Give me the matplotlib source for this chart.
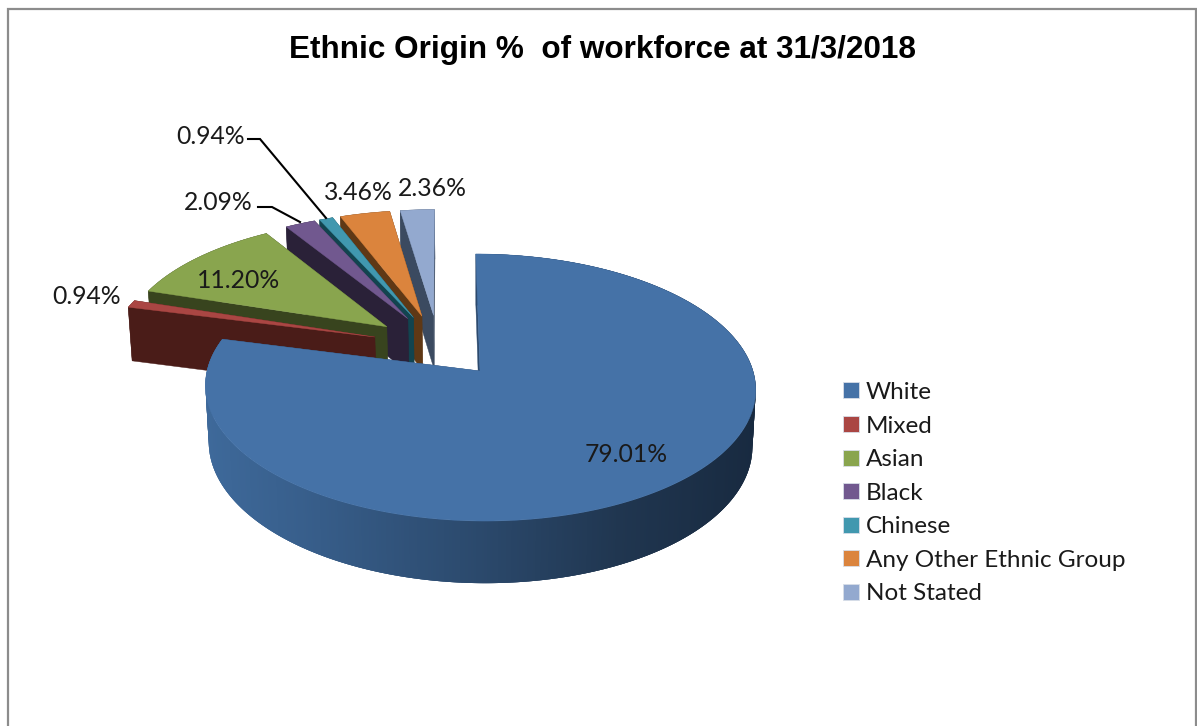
import numpy as np
import matplotlib
matplotlib.use("Agg")
import matplotlib.pyplot as plt
from matplotlib.patches import Patch, Polygon, Rectangle

categories = ["White", "Mixed", "Asian", "Black", "Chinese", "Any Other Ethnic Group", "Not Stated"]
values = [79.01, 0.94, 11.20, 2.09, 0.94, 3.46, 2.36]
top_colors = ["#4572A7", "#AA4643", "#89A54E", "#71588F", "#4198AF", "#DB843D", "#93A9CF"]
wall_colors = ["#2C4A6E", "#4A1C18", "#38441E", "#2A2138", "#12444F", "#5F3815", "#3B4A60"]

# view of the pie, in figure pixels
APEX_X, APEX_Y = 480, 371
RX, RY, SKEW, TILT = 273, 131.5, -4.7, 0.1236
DEPTH, SHRINK = 57, 0.012
EXPLODE = 0.25


def project(u, v, z=0.0):
    # z = 0 is the top face, z = 1 the bottom face
    w = 1 + TILT * v + SHRINK * z
    return APEX_X + (RX * u + SKEW * v) / w, APEX_Y + (-RY * v + DEPTH * z) / w


def wall_shade(x):
    stops_x = [207, 300, 480, 620, 756]
    stops_r = [0x3E, 0x38, 0x2B, 0x20, 0x18]
    stops_g = [0x69, 0x5F, 0x49, 0x36, 0x2A]
    stops_b = [0x9A, 0x8C, 0x6C, 0x50, 0x40]
    return tuple(np.interp(x, stops_x, s) / 255 for s in (stops_r, stops_g, stops_b))


def draw_slice(ax, start, end, ox, oy, top, wall, gradient=False):
    t = np.linspace(start, end, max(int(np.degrees(end - start)) * 2, 6))
    u = ox + np.sin(t)
    v = oy + np.cos(t)

    # radial walls
    for angle in (start, end):
        eu, ev = ox + np.sin(angle), oy + np.cos(angle)
        xs, ys = project(np.array([ox, eu, eu, ox]), np.array([oy, ev, ev, oy]), np.array([0, 0, 1, 1]))
        ax.add_patch(Polygon(np.column_stack([xs, ys]), fc=wall, ec=wall, lw=0.3))

    # outer wall
    x0, y0 = project(u, v, 0)
    x1, y1 = project(u, v, 1)
    if gradient:
        # overlapping strips, so no seams show between them
        for i in range(len(t) - 1):
            j = min(i + 3, len(t) - 1)
            pts = [(x0[i], y0[i]), (x0[j], y0[j]), (x1[j], y1[j]), (x1[i], y1[i])]
            c = wall_shade((x0[i] + x0[i + 1]) / 2)
            ax.add_patch(Polygon(pts, fc=c, ec="none"))
    else:
        pts = np.column_stack([np.r_[x0, x1[::-1]], np.r_[y0, y1[::-1]]])
        ax.add_patch(Polygon(pts, fc=wall, ec=wall, lw=0.3))

    # top face
    ax_, ay_ = project(ox, oy, 0)
    pts = np.column_stack([np.r_[ax_, x0], np.r_[ay_, y0]])
    ax.add_patch(Polygon(pts, fc=top, ec=top, lw=0.3))


plt.rcParams["font.family"] = ["Lato", "DejaVu Sans"]
fig = plt.figure(figsize=(11.97, 7.26), dpi=100)
ax = fig.add_axes([0, 0, 1, 1])
ax.set_xlim(0, 1197)
ax.set_ylim(726, 0)
ax.axis("off")

# chart border, runs off the bottom of the crop
ax.add_patch(Rectangle((8, 9), 1188, 740, fc="white", ec="#8C8C8C", lw=1.6))

edges = np.r_[0, np.cumsum(values)] / np.sum(values) * 2 * np.pi
mids = (edges[:-1] + edges[1:]) / 2
# true centre sits so the large slice lands on the apex
cu = -EXPLODE * np.sin(mids[0])
cv = -EXPLODE * np.cos(mids[0])

for i in [6, 5, 4, 3, 2, 1, 0]:
    ox = cu + EXPLODE * np.sin(mids[i])
    oy = cv + EXPLODE * np.cos(mids[i])
    draw_slice(ax, edges[i], edges[i + 1], ox, oy, top_colors[i], wall_colors[i], gradient=i == 0)

# leader lines
ax.plot([248, 260, 326], [139, 139, 218], color="black", lw=1.5, solid_joinstyle="miter")
ax.plot([258, 272, 300], [207, 207, 222], color="black", lw=1.5, solid_joinstyle="miter")

label_pos = [(626, 455), (87, 297), (239, 280), (218, 203), (211, 136), (358, 192), (432, 188)]
for val, (x, y) in zip(values, label_pos):
    ax.text(x, y, f"{val:.2f}%", ha="center", va="center", fontsize=17.8, color="#1A1A1A")

ax.text(602.5, 50, "Ethnic Origin %  of workforce at 31/3/2018", ha="center", va="center",
        fontsize=22.65, fontweight="bold", family=["Liberation Sans", "DejaVu Sans"], color="black")

handles = [Patch(fc=c, ec="#D8DEE8", lw=0.6) for c in top_colors]
ax.legend(handles, categories, loc="upper left", bbox_to_anchor=(843 / 1197, 1 - 382 / 726),
          frameon=False, fontsize=17.5, handlelength=0.64, handleheight=0.64,
          handletextpad=0.29, labelspacing=0.516, borderpad=0, borderaxespad=0,
          labelcolor="#1A1A1A")

fig.savefig("out.png", dpi=100)
plt.close(fig)
